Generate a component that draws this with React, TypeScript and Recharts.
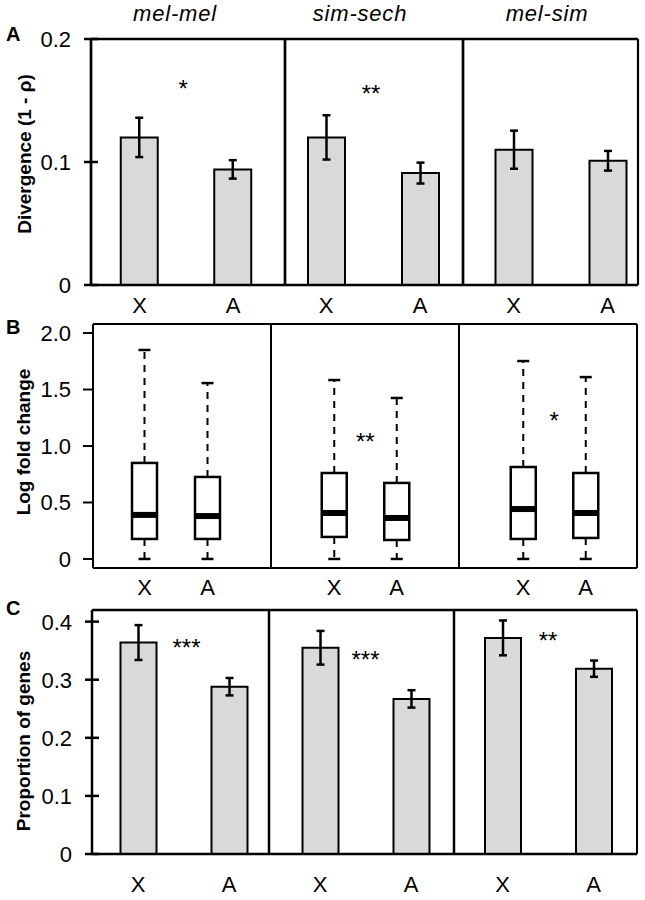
import React from 'react';
import { BarChart, Bar, XAxis, YAxis, ErrorBar, ReferenceDot } from 'recharts';

const FONT = '"Liberation Sans", Arial, Helvetica, sans-serif';
const TICK_FONT = 22;

// ---------- data ----------
const groups = ['mel-mel', 'sim-sech', 'mel-sim'];
const chromosomes = ['X', 'A'];

// Panel A: divergence (1 - rho)
const divergenceX = [0.12, 0.12, 0.11];
const divergenceA = [0.094, 0.091, 0.101];
const divergenceErrX = [0.016, 0.018, 0.0155];
const divergenceErrA = [0.0075, 0.0085, 0.008];
const divergenceStars = ['*', '**', ''];
const divergenceStarLevel = [0.16, 0.156, 0];
const divergenceTicks = [0, 0.1, 0.2];
const divergenceDomain = [0, 0.2];

// Panel B: log fold change boxplots
const lfcLowX = [0, 0, 0];
const lfcQ1X = [0.177, 0.195, 0.177];
const lfcMedianX = [0.39, 0.407, 0.442];
const lfcQ3X = [0.85, 0.761, 0.814];
const lfcHighX = [1.85, 1.584, 1.752];
const lfcLowA = [0, 0, 0];
const lfcQ1A = [0.177, 0.168, 0.186];
const lfcMedianA = [0.38, 0.363, 0.407];
const lfcQ3A = [0.726, 0.673, 0.761];
const lfcHighA = [1.557, 1.425, 1.61];
const lfcStars = ['', '**', '*'];
const lfcStarLevel = [0, 1.044, 1.23];
const lfcTicks = [0, 0.5, 1.0, 1.5, 2.0];
const lfcDomain = [-0.08, 2.08];

// Panel C: proportion of genes
const propX = [0.364, 0.355, 0.372];
const propA = [0.288, 0.267, 0.319];
const propErrX = [0.03, 0.029, 0.03];
const propErrA = [0.015, 0.015, 0.014];
const propStars = ['***', '***', '**'];
const propStarLevel = [0.355, 0.334, 0.367];
const propTicks = [0, 0.1, 0.2, 0.3, 0.4];
const propDomain = [0, 0.42];

// ---------- layout ----------
type Layout = {
  top: number; height: number; plotTop: number; plotBottom: number;
  xAxisHeight: number; xTickMargin: number; edges: number[]; centers: number[][];
  frame: number; rightFrame: number; starShift: number[];
};
const layoutA: Layout = {
  top: 0, height: 320, plotTop: 39, plotBottom: 285, xAxisHeight: 30, xTickMargin: 12,
  edges: [91, 285, 463, 638], centers: [[139.5, 233], [326, 420], [513.5, 607.5]],
  frame: 2.7, rightFrame: 2.2, starShift: [-3, -2, 0],
};
const layoutB: Layout = {
  top: 300, height: 300, plotTop: 324, plotBottom: 568, xAxisHeight: 30, xTickMargin: 11,
  edges: [93, 271, 459, 637], centers: [[144.5, 207.5], [334, 396.5], [523, 585.5]],
  frame: 2, rightFrame: 2, starShift: [0, 0, 0],
};
const layoutC: Layout = {
  top: 590, height: 310, plotTop: 610, plotBottom: 854, xAxisHeight: 40, xTickMargin: 22,
  edges: [92, 269, 454, 637], centers: [[138, 229], [320, 411], [502.5, 593.5]],
  frame: 2.5, rightFrame: 2, starShift: [3, 0, 0],
};

const fmtTick = (v: number) => (v === 0 ? '0' : v.toFixed(1));

const crossTick = (offset: number, half: number, sw: number) => (props: any) => {
  const { x, y, payload } = props;
  const ax = x + offset;
  return (
    <g>
      <line x1={ax - half} x2={ax + half} y1={y} y2={y} stroke="#000" strokeWidth={sw} />
      <text x={x} y={y} dy="0.36em" textAnchor="end" fontSize={TICK_FONT} fill="#000">
        {fmtTick(payload.value)}
      </text>
    </g>
  );
};

const BoxShape = (props: any) => {
  const { x, y, width, height } = props;
  const d = props.payload ?? props;
  const top = Math.min(y, y + height);
  const bottom = Math.max(y, y + height);
  const span = d.high - d.low;
  const py = (v: number) => bottom - ((v - d.low) / span) * (bottom - top);
  const cx = x + width / 2;
  const capHalf = 6;
  return (
    <g>
      <line x1={cx} x2={cx} y1={py(d.q3)} y2={py(d.high)} stroke="#000" strokeWidth={2} strokeDasharray="7 6" />
      <line x1={cx} x2={cx} y1={py(d.q1)} y2={py(d.low)} stroke="#000" strokeWidth={2} strokeDasharray="7 6" />
      <line x1={cx - capHalf} x2={cx + capHalf} y1={py(d.high)} y2={py(d.high)} stroke="#000" strokeWidth={2.5} />
      <line x1={cx - capHalf} x2={cx + capHalf} y1={py(d.low)} y2={py(d.low)} stroke="#000" strokeWidth={2.5} />
      <rect x={x} y={py(d.q3)} width={width} height={py(d.q1) - py(d.q3)} fill="#fff" stroke="#000" strokeWidth={2.5} />
      <line x1={x} x2={x + width} y1={py(d.median)} y2={py(d.median)} stroke="#000" strokeWidth={6} />
    </g>
  );
};

type SubProps = {
  layout: Layout; index: number; data: any[]; kind: 'bar' | 'box';
  yDomain: number[]; yTicks: number[]; tickMode: 'cross' | 'out';
  star: string; starLevel: number; barSize: number;
};

function SubPanel({ layout, index, data, kind, yDomain, yTicks, tickMode, star, starLevel, barSize }: SubProps) {
  const L = layout.edges[index];
  const R = layout.edges[index + 1];
  const [c1, c2] = layout.centers[index];
  const band = c2 - c1;
  const pad = { left: c1 - band / 2 - L, right: R - (c2 + band / 2) };
  const first = index === 0;
  const last = index === 2;
  const EXTRA = 6;
  const svgLeft = first ? 0 : L - EXTRA;
  const width = R + EXTRA - svgLeft;
  const margin = {
    top: layout.plotTop - layout.top - 1,
    bottom: layout.top + layout.height - layout.plotBottom - layout.xAxisHeight,
    left: first ? 0 : EXTRA - 1,
    right: last ? EXTRA - 1 : EXTRA,
  };
  const frameLine = { stroke: '#000', strokeWidth: layout.frame };
  const tickOffset = tickMode === 'cross' ? 20 : 22;

  return (
    <div style={{ position: 'absolute', left: svgLeft, top: layout.top }}>
      <BarChart width={width} height={layout.height} data={data} margin={margin}>
        <XAxis
          dataKey="cat"
          height={layout.xAxisHeight}
          padding={pad}
          axisLine={frameLine}
          tickLine={false}
          tickSize={0}
          tickMargin={layout.xTickMargin}
          interval={0}
          tick={{ fontSize: TICK_FONT, fill: '#000' }}
        />
        <XAxis xAxisId="top" dataKey="cat" orientation="top" height={1} tick={false} tickLine={false} axisLine={frameLine} />
        {first ? (
          tickMode === 'cross' ? (
            <YAxis
              type="number"
              domain={yDomain}
              ticks={yTicks}
              interval={0}
              width={L}
              axisLine={frameLine}
              tickLine={false}
              tickSize={7}
              tickMargin={tickOffset - 7}
              tick={crossTick(tickOffset, 7, 2.5)}
            />
          ) : (
            <YAxis
              type="number"
              domain={yDomain}
              ticks={yTicks}
              interval={0}
              width={L}
              axisLine={frameLine}
              tickLine={{ stroke: '#000', strokeWidth: 2 }}
              tickSize={10}
              tickMargin={12}
              tickFormatter={fmtTick}
              tick={{ fontSize: TICK_FONT, fill: '#000' }}
            />
          )
        ) : (
          <YAxis type="number" domain={yDomain} ticks={yTicks} width={1} tick={false} tickLine={false} axisLine={frameLine} />
        )}
        {last && (
          <YAxis
            yAxisId="right"
            orientation="right"
            type="number"
            domain={yDomain}
            width={1}
            tick={false}
            tickLine={false}
            axisLine={{ stroke: '#000', strokeWidth: layout.rightFrame }}
          />
        )}
        {kind === 'bar' ? (
          <Bar dataKey="value" fill="#d9d9d9" stroke="#000" strokeWidth={2} barSize={barSize} isAnimationActive={false}>
            <ErrorBar dataKey="err" width={4} stroke="#000" strokeWidth={2.5} direction="y" />
          </Bar>
        ) : (
          <Bar
            dataKey={(d: any) => [d.low, d.high]}
            shape={BoxShape}
            barSize={barSize}
            isAnimationActive={false}
          />
        )}
        {star !== '' && (
          <ReferenceDot
            x={chromosomes[0]}
            y={starLevel}
            r={0}
            fill="none"
            stroke="none"
            ifOverflow="visible"
            label={{
              value: star,
              position: 'center',
              dx: band / 2 + layout.starShift[index],
              fontSize: 24,
              fill: '#000',
            }}
          />
        )}
      </BarChart>
    </div>
  );
}

const divergenceRows = (i: number) => [
  { cat: chromosomes[0], value: divergenceX[i], err: divergenceErrX[i] },
  { cat: chromosomes[1], value: divergenceA[i], err: divergenceErrA[i] },
];
const lfcRows = (i: number) => [
  { cat: chromosomes[0], low: lfcLowX[i], q1: lfcQ1X[i], median: lfcMedianX[i], q3: lfcQ3X[i], high: lfcHighX[i] },
  { cat: chromosomes[1], low: lfcLowA[i], q1: lfcQ1A[i], median: lfcMedianA[i], q3: lfcQ3A[i], high: lfcHighA[i] },
];
const propRows = (i: number) => [
  { cat: chromosomes[0], value: propX[i], err: propErrX[i] },
  { cat: chromosomes[1], value: propA[i], err: propErrA[i] },
];

const titleCenters = [175, 360, 547];

export default function App() {
  return (
    <div
      style={{
        position: 'absolute', left: 0, top: 0, width: 645, height: 900,
        background: '#fff', fontFamily: FONT, overflow: 'hidden',
      }}
    >
      {groups.map((g, i) => (
        <SubPanel
          key={'A' + g}
          layout={layoutA}
          index={i}
          data={divergenceRows(i)}
          kind="bar"
          yDomain={divergenceDomain}
          yTicks={divergenceTicks}
          tickMode="cross"
          star={divergenceStars[i]}
          starLevel={divergenceStarLevel[i]}
          barSize={37}
        />
      ))}
      {groups.map((g, i) => (
        <SubPanel
          key={'B' + g}
          layout={layoutB}
          index={i}
          data={lfcRows(i)}
          kind="box"
          yDomain={lfcDomain}
          yTicks={lfcTicks}
          tickMode="out"
          star={lfcStars[i]}
          starLevel={lfcStarLevel[i]}
          barSize={25}
        />
      ))}
      {groups.map((g, i) => (
        <SubPanel
          key={'C' + g}
          layout={layoutC}
          index={i}
          data={propRows(i)}
          kind="bar"
          yDomain={propDomain}
          yTicks={propTicks}
          tickMode="cross"
          star={propStars[i]}
          starLevel={propStarLevel[i]}
          barSize={36}
        />
      ))}
      <svg
        width={645}
        height={900}
        style={{ position: 'absolute', left: 0, top: 0, pointerEvents: 'none' }}
      >
        {groups.map((g, i) => (
          <text key={g} x={titleCenters[i]} y={21} textAnchor="middle" fontSize={22} letterSpacing={0.8} fontStyle="italic" fill="#000">
            {g}
          </text>
        ))}
        <text x={6} y={41} fontSize={20} fontWeight="bold" fill="#000">A</text>
        <text x={6} y={334} fontSize={20} fontWeight="bold" fill="#000">B</text>
        <text x={6} y={615} fontSize={20} fontWeight="bold" fill="#000">C</text>
        <text x={31} y={154} transform="rotate(-90 31 154)" textAnchor="middle" fontSize={19} fontWeight="bold" fill="#000">
          Divergence (1 - ρ)
        </text>
        <text x={30} y={442} transform="rotate(-90 30 442)" textAnchor="middle" fontSize={19} fontWeight="bold" fill="#000">
          Log fold change
        </text>
        <text x={30} y={741} transform="rotate(-90 30 741)" textAnchor="middle" fontSize={19} fontWeight="bold" fill="#000">
          Proportion of genes
        </text>
      </svg>
    </div>
  );
}
